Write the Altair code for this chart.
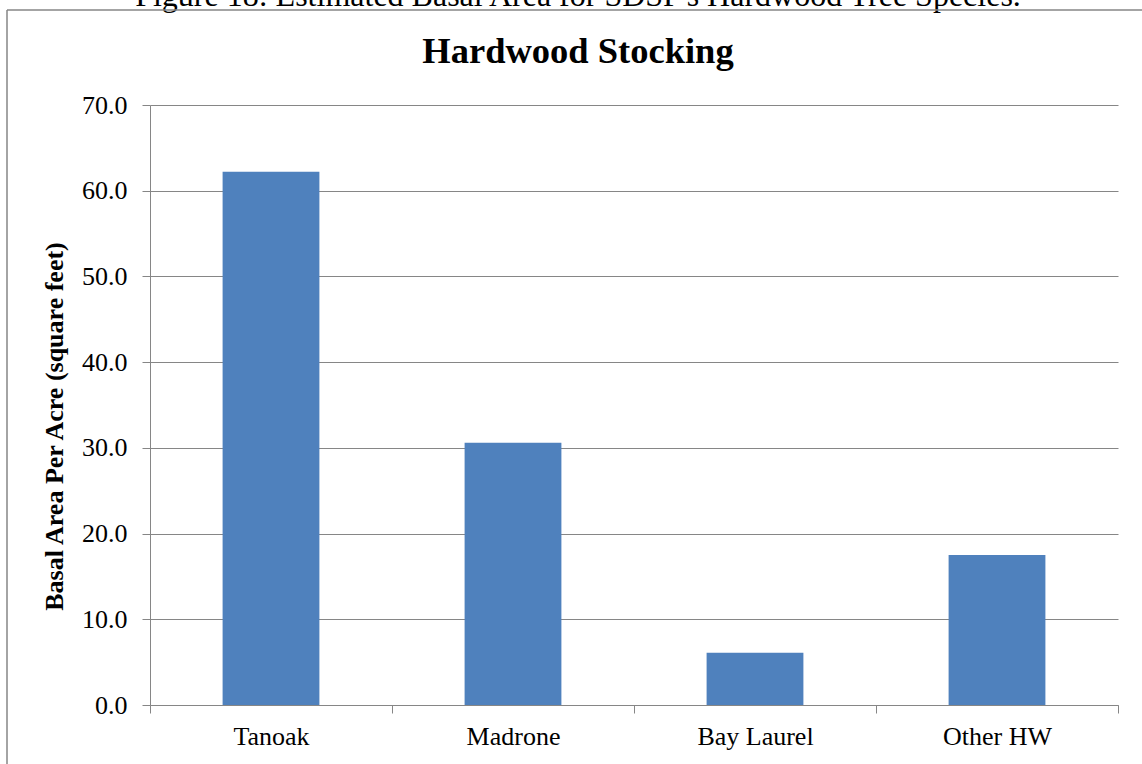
import altair as alt
import pandas as pd

# Hardwood basal area per acre by species
species = ["Tanoak", "Madrone", "Bay Laurel", "Other HW"]
basal_area = [62.2, 30.6, 6.1, 17.5]
y_ticks = [0, 10, 20, 30, 40, 50, 60, 70]

caption = "Figure 18: Estimated Basal Area for SDSF's Hardwood Tree Species."
title = "Hardwood Stocking"
y_title = "Basal Area Per Acre (square feet)"

FONT = "Liberation Serif"
GRAY = "#868686"
BAR = "#4F81BD"

PLOT_W, PLOT_H = 968, 600
PAD = {"left": 150, "top": 105, "right": 24, "bottom": 59}

data = pd.DataFrame({"species": species, "basal": basal_area})

bars = (
    alt.Chart(data)
    .mark_bar(color=BAR, width=alt.RelativeBandSize(0.4))
    .encode(
        x=alt.X(
            "species:N",
            sort=species,
            scale=alt.Scale(paddingInner=0, paddingOuter=0),
            axis=alt.Axis(
                title=None,
                tickBand="extent",
                tickSize=8,
                tickColor=GRAY,
                domainColor=GRAY,
                labelFont=FONT,
                labelFontSize=26,
                labelColor="black",
                labelAngle=0,
                labelBaseline="alphabetic",
                labelPadding=31,
                grid=False,
            ),
        ),
        y=alt.Y(
            "basal:Q",
            scale=alt.Scale(domain=[0, 70], nice=False),
            axis=alt.Axis(
                title=y_title,
                values=y_ticks,
                format=".1f",
                grid=True,
                gridColor=GRAY,
                tickColor=GRAY,
                domainColor=GRAY,
                tickSize=8,
                labelFont=FONT,
                labelFontSize=26,
                labelColor="black",
                labelPadding=15,
                titleFont=FONT,
                titleFontSize=26,
                titleFontWeight="bold",
                titleColor="black",
                titleBaseline="alphabetic",
                titleX=-88,
                titleY=321,
            ),
        ),
    )
)

# Document caption line above the chart frame
cap = (
    alt.Chart(pd.DataFrame({"caption": [caption]}))
    .mark_text(font=FONT, fontSize=32, color="black", align="center", baseline="alphabetic")
    .encode(text="caption:N", x=alt.value(428), y=alt.value(-99))
)

# Chart heading, centred on the chart frame
heading = (
    alt.Chart(pd.DataFrame({"heading": [title]}))
    .mark_text(font=FONT, fontSize=36.5, fontWeight="bold", color="black",
               align="center", baseline="alphabetic")
    .encode(text="heading:N", x=alt.value(428), y=alt.value(-42))
)

# Chart frame (top and left edges)
frame_top = (
    alt.Chart(pd.DataFrame({"k": [0]}))
    .mark_rule(color=GRAY, strokeWidth=1.5)
    .encode(x=alt.value(-143), x2=alt.value(1000), y=alt.value(-95))
)
frame_left = (
    alt.Chart(pd.DataFrame({"k": [0]}))
    .mark_rule(color=GRAY, strokeWidth=1.5)
    .encode(x=alt.value(-143), y=alt.value(-95), y2=alt.value(700))
)

chart = (
    alt.layer(bars, cap, heading, frame_top, frame_left)
    .properties(
        width=PLOT_W,
        height=PLOT_H,
        padding=PAD,
        autosize=alt.AutoSizeParams(type="none"),
        background="white",
    )
    .configure_view(stroke=None)
)

chart.save("out.html", embed_options={"renderer": "svg", "actions": False})
